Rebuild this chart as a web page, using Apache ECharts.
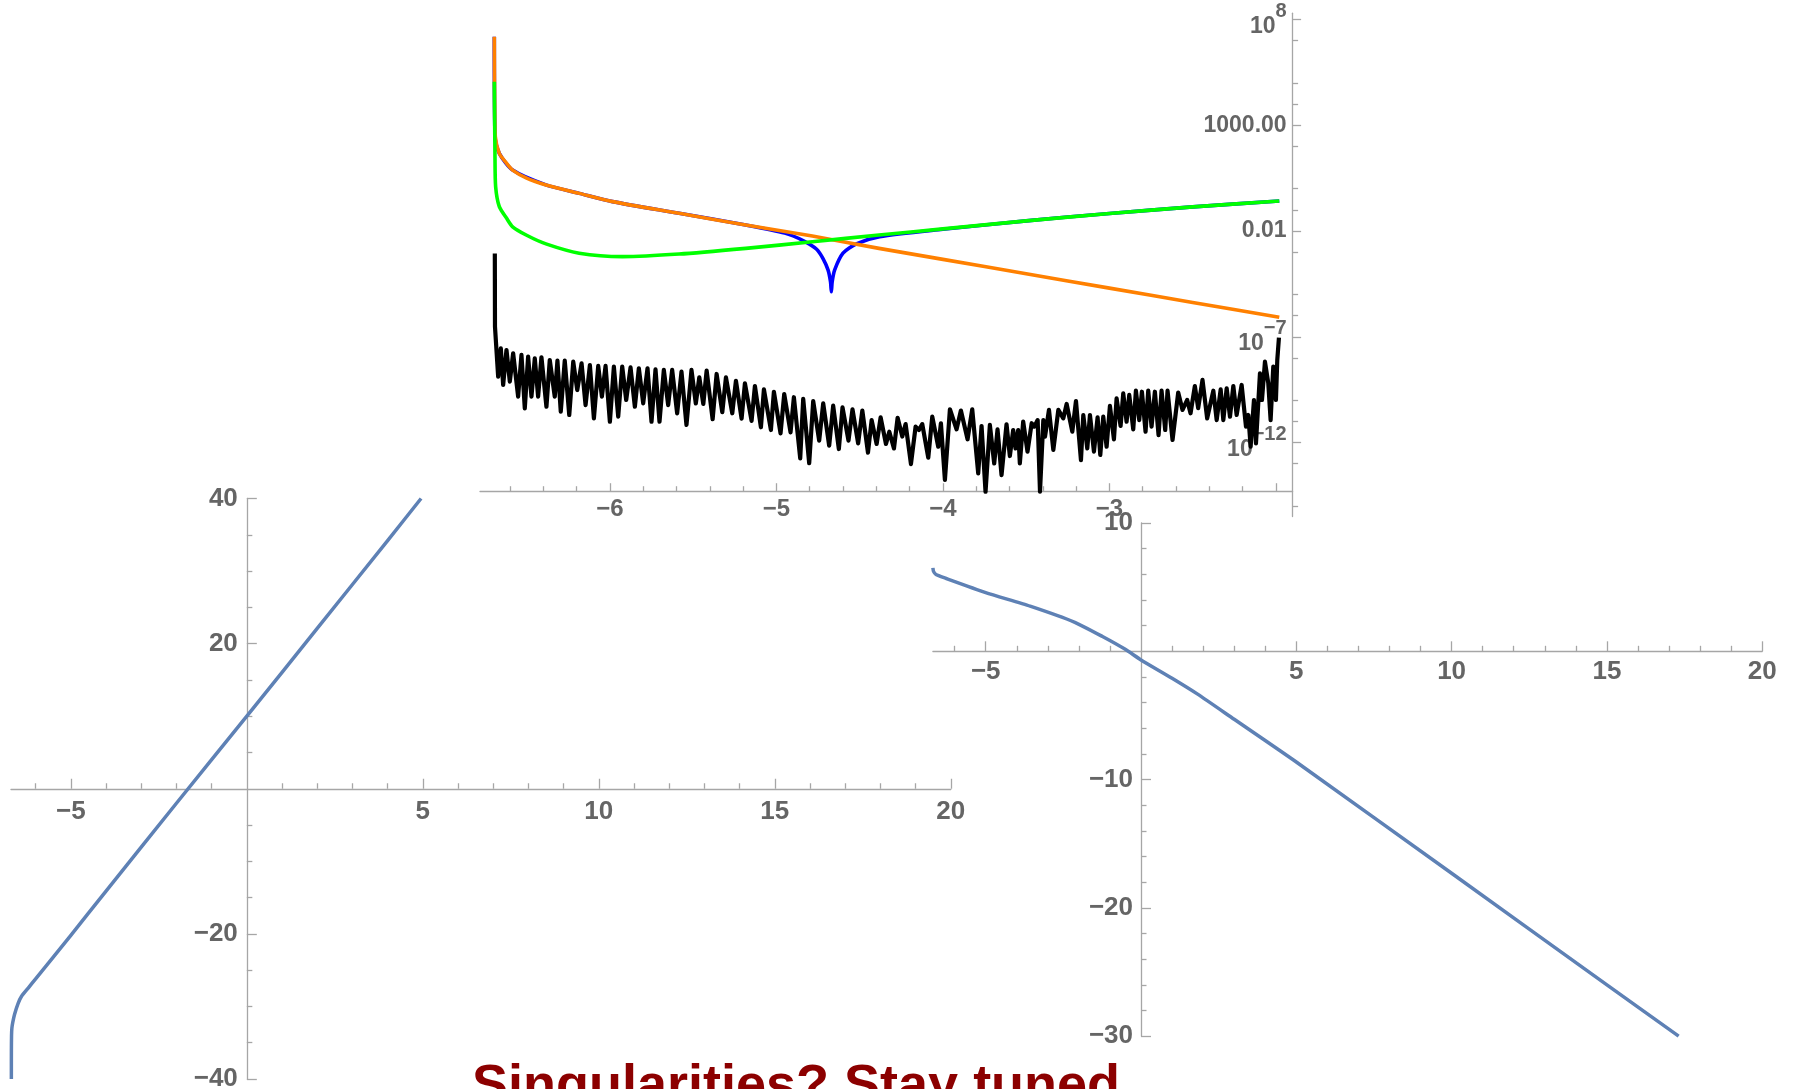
<!DOCTYPE html>
<html>
<head>
<meta charset="utf-8">
<script src="https://cdn.jsdelivr.net/npm/echarts@6/dist/echarts.min.js"></script>
<style>
  html, body { margin: 0; padding: 0; background: #fff; }
  #chart { width: 1793px; height: 1089px; }
</style>
</head>
<body>
<div id="chart"></div>
<script>
// ---- top panel: log10 of the plotted values ----
const topBlue = [
  [-6.694, 7.19], [-6.690, 2.46], [-6.664, 1.67], [-6.584, 0.88], [-6.384, 0.18],
  [-6.184, -0.22], [-5.984, -0.61], [-5.584, -1.16], [-5.184, -1.72], [-4.95, -2.1],
  [-4.84, -2.45], [-4.76, -2.85], [-4.72, -3.3], [-4.69, -3.84], [-4.675, -4.4],
  [-4.67, -4.87], [-4.665, -4.4], [-4.65, -3.84], [-4.60, -3.05], [-4.52, -2.61],
  [-4.38, -2.27], [-4.0, -1.92], [-3.5, -1.52], [-3.0, -1.17], [-2.5, -0.86], [-1.98, -0.58]
];
const topOrange = [
  [-6.694, 7.19], [-6.692, 4.0], [-6.688, 2.46], [-6.664, 1.67], [-6.62, 1.2],
  [-6.584, 0.88], [-6.5, 0.5], [-6.384, 0.18], [-6.184, -0.22], [-5.984, -0.61],
  [-5.584, -1.16], [-5.184, -1.72], [-4.784, -2.24], [-4.384, -2.82], [-4.0, -3.34],
  [-3.5, -4.02], [-3.0, -4.70], [-2.5, -5.38], [-1.98, -6.08]
];
const topGreen = [
  [-6.694, 5.06], [-6.690, 1.5], [-6.686, 0.09], [-6.664, -0.85], [-6.62, -1.4],
  [-6.584, -1.80], [-6.5, -2.2], [-6.384, -2.61], [-6.184, -3.05], [-5.924, -3.21],
  [-5.584, -3.09], [-5.184, -2.82], [-4.784, -2.51], [-4.384, -2.19], [-4.0, -1.9],
  [-3.5, -1.52], [-3.0, -1.17], [-2.5, -0.86], [-1.98, -0.58]
];
const topBlack = [
  [-6.691, -3.06], [-6.690, -6.52], [-6.685, -7.15], [-6.671, -8.89], [-6.655, -7.55],
  [-6.641, -9.28], [-6.621, -7.63], [-6.601, -9.12], [-6.581, -7.78], [-6.551, -9.83],
  [-6.531, -7.86], [-6.511, -10.39], [-6.491, -7.94], [-6.471, -9.83], [-6.451, -8.02],
  [-6.431, -9.83], [-6.411, -7.97], [-6.381, -10.31], [-6.361, -8.10], [-6.331, -9.83],
  [-6.315, -8.13], [-6.295, -10.54], [-6.271, -8.13], [-6.244, -10.70], [-6.220, -8.18],
  [-6.196, -9.52], [-6.170, -8.26], [-6.146, -10.23], [-6.120, -8.34], [-6.096, -10.86],
  [-6.070, -8.38], [-6.048, -9.83], [-6.026, -8.38], [-6.000, -11.02], [-5.976, -8.41],
  [-5.950, -10.78], [-5.926, -8.41], [-5.902, -9.99], [-5.876, -8.45], [-5.850, -10.31],
  [-5.826, -8.49], [-5.800, -10.15], [-5.774, -8.49], [-5.750, -11.02], [-5.726, -8.54],
  [-5.702, -11.02], [-5.676, -8.57], [-5.650, -10.23], [-5.626, -8.57], [-5.596, -10.62],
  [-5.570, -8.65], [-5.540, -11.17], [-5.510, -8.57], [-5.484, -10.15], [-5.463, -8.92],
  [-5.439, -10.18], [-5.419, -8.60], [-5.383, -10.90], [-5.359, -8.76], [-5.325, -10.57],
  [-5.303, -8.92], [-5.265, -10.62], [-5.243, -9.08], [-5.209, -10.87], [-5.189, -9.20],
  [-5.149, -10.98], [-5.129, -9.33], [-5.093, -11.28], [-5.075, -9.49], [-5.033, -11.41],
  [-5.015, -9.60], [-4.975, -11.57], [-4.953, -9.71], [-4.915, -11.52], [-4.895, -9.86],
  [-4.857, -12.75], [-4.839, -9.94], [-4.803, -12.98], [-4.779, -10.04], [-4.743, -11.91],
  [-4.719, -10.15], [-4.683, -12.15], [-4.659, -10.26], [-4.625, -12.31], [-4.603, -10.34],
  [-4.567, -11.91], [-4.543, -10.43], [-4.509, -12.04], [-4.484, -10.49], [-4.450, -12.48],
  [-4.428, -10.94], [-4.398, -12.07], [-4.374, -10.81], [-4.342, -12.07], [-4.322, -11.49],
  [-4.294, -12.28], [-4.272, -10.83], [-4.244, -11.72], [-4.224, -11.13], [-4.192, -13.02],
  [-4.164, -11.25], [-4.144, -11.41], [-4.124, -11.13], [-4.088, -12.72], [-4.064, -10.78],
  [-4.028, -12.20], [-4.012, -11.09], [-3.988, -13.77], [-3.958, -10.43], [-3.918, -11.38],
  [-3.892, -10.49], [-3.852, -11.85], [-3.824, -10.43], [-3.788, -13.46], [-3.768, -11.22],
  [-3.744, -14.33], [-3.718, -11.17], [-3.692, -12.99], [-3.672, -11.38], [-3.648, -13.54],
  [-3.618, -11.14], [-3.598, -12.64], [-3.578, -11.41], [-3.564, -12.28], [-3.548, -11.41],
  [-3.538, -12.99], [-3.518, -11.01], [-3.492, -12.43], [-3.467, -11.09], [-3.451, -11.25],
  [-3.431, -10.94], [-3.417, -14.33], [-3.397, -10.94], [-3.387, -11.72], [-3.363, -10.46],
  [-3.337, -12.35], [-3.307, -10.46], [-3.277, -10.86], [-3.257, -10.18], [-3.223, -11.49],
  [-3.201, -10.04], [-3.171, -12.83], [-3.157, -10.70], [-3.133, -12.28], [-3.117, -10.70],
  [-3.093, -12.43], [-3.071, -10.81], [-3.055, -12.59], [-3.037, -10.78], [-3.017, -12.20],
  [-2.997, -10.27], [-2.973, -11.85], [-2.957, -9.91], [-2.933, -11.22], [-2.917, -9.68],
  [-2.897, -11.02], [-2.881, -9.75], [-2.857, -11.38], [-2.841, -9.55], [-2.821, -10.94],
  [-2.805, -9.60], [-2.783, -11.49], [-2.767, -9.55], [-2.747, -11.25], [-2.727, -9.60],
  [-2.705, -11.65], [-2.687, -9.55], [-2.665, -11.41], [-2.651, -9.55], [-2.621, -11.88],
  [-2.587, -9.64], [-2.561, -10.46], [-2.533, -9.99], [-2.513, -10.62], [-2.487, -9.33],
  [-2.467, -10.38], [-2.441, -9.04], [-2.413, -10.86], [-2.376, -9.55], [-2.356, -10.94],
  [-2.332, -9.49], [-2.316, -10.94], [-2.296, -9.44], [-2.276, -10.78], [-2.256, -9.33],
  [-2.236, -10.70], [-2.206, -9.28], [-2.180, -11.25], [-2.166, -10.70], [-2.152, -12.20],
  [-2.132, -9.99], [-2.120, -12.04], [-2.096, -8.73], [-2.084, -9.99], [-2.066, -8.18],
  [-2.046, -9.20], [-2.032, -10.94], [-2.016, -8.41], [-2.000, -9.99], [-1.992, -8.10],
  [-1.982, -7.04]
];
const topXMajor = [-6, -5, -4, -3, -2];
const topXLabels = [-6, -5, -4, -3];
const topXMinor = [-6.6, -6.4, -6.2, -5.8, -5.6, -5.4, -5.2, -4.8, -4.6, -4.4, -4.2,
  -3.8, -3.6, -3.4, -3.2, -2.8, -2.6, -2.4, -2.2];
const topYMajor = [8, 3, -2, -7, -12];
const topYLabels = ['{b|10}{s|8}', '1000.00', '0.01', '{b|10}{s|\u22127}', '{b|10}{s|\u221212}'];
const topYMinor = [7, 5, 4, 2, 0, -1, -3, -5, -6, -8, -10, -11, -13, -15];

// ---- lower left panel ----
const leftCurve = [
  [-6.69, -40], [-6.689, -36], [-6.685, -34], [-6.675, -33], [-6.65, -32.2],
  [-6.6, -31.1], [-6.5, -29.6], [-6.4, -28.6], [-6.2, -27.4], [-6.0, -26.2],
  [-5.0, -20.2], [-4.0, -14.1], [-2.0, -2.0], [0, 10.0], [2, 22.1], [4, 34.2], [4.95, 40]
];
const leftXMajor = [-5, 5, 10, 15, 20];
const leftXMinor = [-6, -4, -3, -2, -1, 1, 2, 3, 4, 6, 7, 8, 9, 11, 12, 13, 14, 16, 17, 18, 19];
const leftYMajor = [-40, -20, 20, 40];
const leftYMinor = [-35, -30, -25, -15, -10, -5, 5, 10, 15, 25, 30, 35];

// ---- lower right panel ----
const rightCurve = [
  [-6.70, 6.5], [-6.68, 6.23], [-6.6, 5.98], [-6.3, 5.70], [-5.0, 4.58],
  [-3.57, 3.52], [-2.13, 2.26], [-1.24, 1.15], [-0.52, 0.17], [0, -0.67],
  [1, -2.1], [1.81, -3.32], [3, -5.3], [5, -8.63], [10, -17.3], [15, -26.0], [17.31, -30]
];
const rightXMajor = [-5, 5, 10, 15, 20];
const rightXMinor = [-6, -4, -3, -2, -1, 1, 2, 3, 4, 6, 7, 8, 9, 11, 12, 13, 14, 16, 17, 18, 19];
const rightYMajor = [-30, -20, -10, 10];
const rightYMinor = [-28, -26, -24, -22, -18, -16, -14, -12, -8, -6, -4, -2, 2, 4, 6, 8];

const titleText = 'Singularities? Stay tuned';

const AXIS_GRAY = '#a6a6a6';
const LABEL_GRAY = '#656565';
const PLOT_BLUE = '#5e81b5';

function minus(v) {
  return String(v).replace('-', '\u2212');
}

// one axis carrying line, major ticks and labels; a twin carries only minor ticks
function makeAxis(o) {
  const major = {
    type: 'value',
    gridIndex: o.grid,
    min: o.min,
    max: o.max,
    position: o.position,
    offset: o.offset || 0,
    axisLine: {
      show: true,
      onZero: false,
      lineStyle: {color: AXIS_GRAY, width: 1.3}
    },
    axisTick: {
      show: true,
      inside: o.tickInside,
      length: o.majorLen,
      customValues: o.major,
      lineStyle: {color: AXIS_GRAY, width: 1.3}
    },
    axisLabel: {
      show: true,
      inside: !!o.labelInside,
      margin: o.margin,
      customValues: o.labels,
      formatter: o.formatter || minus,
      fontFamily: 'Liberation Sans',
      fontWeight: 'bold',
      fontSize: o.fontSize,
      color: LABEL_GRAY,
      rich: o.rich
    },
    splitLine: {show: false}
  };
  const minor = {
    type: 'value',
    gridIndex: o.grid,
    min: o.min,
    max: o.max,
    position: o.position,
    offset: o.offset || 0,
    axisLine: {show: false, onZero: false},
    axisTick: {
      show: true,
      inside: o.tickInside,
      length: 5.5,
      customValues: o.minor,
      lineStyle: {color: AXIS_GRAY, width: 1.3}
    },
    axisLabel: {show: false},
    splitLine: {show: false}
  };
  return [major, minor];
}

// grid boxes (pixels)
const gridTop = {left: 480, top: 13.2, width: 812.6, height: 503.3};
const gridLeft = {left: 11, top: 498.5, width: 939.8, height: 580.5};
const gridRight = {left: 932.9, top: 523, width: 829.3, height: 513.2};

const xAxes = [].concat(
  makeAxis({grid: 0, min: -6.78, max: -1.9, position: 'bottom', offset: -24.8, fontSize: 24,
    tickInside: true, majorLen: 8.5, major: topXMajor, minor: topXMinor, labels: topXLabels, margin: 6}),
  makeAxis({grid: 1, min: -6.7, max: 20, position: 'bottom', offset: -(gridLeft.height / 2), fontSize: 26,
    tickInside: true, majorLen: 10, major: leftXMajor, minor: leftXMinor, labels: leftXMajor, margin: 10}),
  makeAxis({grid: 2, min: -6.7, max: 20, position: 'bottom', offset: -(gridRight.height * 30 / 40), fontSize: 26,
    tickInside: true, majorLen: 10, major: rightXMajor, minor: rightXMinor, labels: rightXMajor, margin: 8})
);

const yAxes = [].concat(
  makeAxis({grid: 0, min: -15.5, max: 8.3, position: 'right', fontSize: 23,
    tickInside: false, majorLen: 8.5, major: topYMajor, minor: topYMinor, labels: topYMajor,
    labelInside: true, margin: 6,
    formatter: function (v) { return topYLabels[topYMajor.indexOf(v)]; },
    rich: {
      b: {fontFamily: 'Liberation Sans', fontWeight: 'bold', fontSize: 23, color: LABEL_GRAY,
        lineHeight: 37, verticalAlign: 'bottom'},
      s: {fontFamily: 'Liberation Sans', fontWeight: 'bold', fontSize: 20, color: LABEL_GRAY,
        lineHeight: 20, verticalAlign: 'top'}
    }}),
  makeAxis({grid: 1, min: -40, max: 40, position: 'left', offset: -(gridLeft.width * 6.7 / 26.7), fontSize: 26,
    tickInside: true, majorLen: 10, major: leftYMajor, minor: leftYMinor, labels: leftYMajor, margin: 9}),
  makeAxis({grid: 2, min: -30, max: 10, position: 'left', offset: -(gridRight.width * 6.7 / 26.7), fontSize: 26,
    tickInside: true, majorLen: 10, major: rightYMajor, minor: rightYMinor, labels: rightYMajor, margin: 8})
);

function lineSeries(data, color, width, xi, yi, smooth) {
  return {
    type: 'line',
    data: data,
    xAxisIndex: xi,
    yAxisIndex: yi,
    showSymbol: false,
    smooth: smooth,
    lineStyle: {color: color, width: width, join: 'round'},
    silent: true
  };
}

function gridBox(g) {
  return Object.assign({containLabel: false, outerBoundsMode: 'none'}, g);
}

const chart = echarts.init(document.getElementById('chart'), null, {renderer: 'canvas'});
chart.setOption({
  animation: false,
  backgroundColor: '#ffffff',
  title: {
    text: titleText,
    left: 472,
    top: 1060,
    padding: 0,
    textStyle: {
      fontFamily: 'Liberation Sans',
      fontWeight: 'bold',
      fontSize: 54,
      color: '#8c0000'
    }
  },
  grid: [gridBox(gridTop), gridBox(gridLeft), gridBox(gridRight)],
  xAxis: xAxes,
  yAxis: yAxes,
  series: [
    lineSeries(topBlack, '#000000', 4.2, 0, 0, false),
    lineSeries(topBlue, '#0000ff', 3.6, 0, 0, 0.25),
    lineSeries(topOrange, '#ff8000', 3.6, 0, 0, 0.25),
    lineSeries(topGreen, '#00ff00', 3.6, 0, 0, 0.25),
    lineSeries(leftCurve, PLOT_BLUE, 3.5, 2, 2, 0.2),
    lineSeries(rightCurve, PLOT_BLUE, 3.5, 4, 4, 0.2)
  ]
});
</script>
</body>
</html>
